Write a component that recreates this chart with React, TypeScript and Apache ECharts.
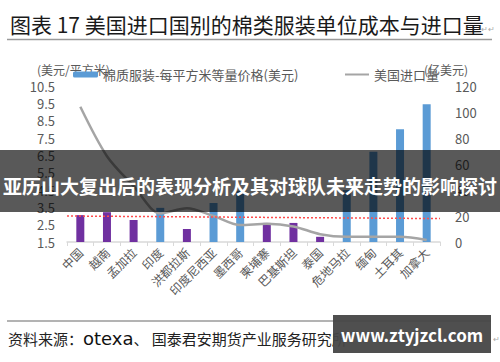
import React, { useEffect, useRef } from "react";
import * as echarts from "echarts";

const categories = ["中国", "越南", "孟加拉", "印度", "洪都拉斯", "印度尼西亚", "墨西哥", "柬埔寨", "巴基斯坦", "泰国", "危地马拉", "缅甸", "土耳其", "加拿大"];
const unitPrice = [3.05, 3.22, 2.77, 3.47, 2.25, 3.75, 4.45, 2.6, 2.6, 1.8, 4.5, 6.7, 8.0, 9.45];
const priceGroup = ["p", "p", "p", "b", "p", "b", "b", "p", "p", "p", "b", "b", "b", "b"];
const importVolume = [104, 66, 43, 22, 26, 20, 13, 14, 12, 6, 4, 4, 4, 1.5];
const trendLine = [[0, 3.0], [1, 2.85]];
const leftTicks = { min: 1.5, max: 10.5, interval: 1 };
const rightTicks = { min: 0, max: 120, interval: 20 };

const PURPLE = "#7030A0";
const BLUE = "#5B9BD5";
const FONT = "'Noto Sans CJK SC', 'Noto Sans', sans-serif";

export default function App() {
  const ref = useRef<HTMLDivElement>(null);
  useEffect(() => {
    if (!ref.current) return;
    const chart = echarts.init(ref.current, null, { renderer: "svg" });
    const labelStyle = { color: "#595959", fontSize: 12, fontFamily: FONT };
    chart.setOption({
      animation: false,
      backgroundColor: "#fff",
      grid: { left: 67, right: 60, top: 86, bottom: 120, containLabel: false },
      legend: [
        {
          data: ["棉质服装-每平方米等量价格(美元)"],
          left: 68, top: 63, itemWidth: 25, itemHeight: 6, itemGap: 4,
          textStyle: { ...labelStyle, fontSize: 13 },
        },
        {
          data: [{ name: "美国进口量", icon: "rect" }],
          left: 340, top: 63, itemWidth: 24, itemHeight: 2,
          textStyle: { ...labelStyle, fontSize: 13 },
        },
      ],
      xAxis: [
        {
          type: "category",
          data: categories,
          axisLine: { lineStyle: { color: "#D9D9D9", width: 1.5 } },
          axisTick: { show: true, lineStyle: { color: "#D9D9D9" }, length: 4 },
          axisLabel: { ...labelStyle, rotate: 45, margin: 8, interval: 0 },
        },
        { type: "value", min: 0, max: 1, show: false },
      ],
      yAxis: [
        {
          type: "value", ...leftTicks,
          axisLine: { show: false }, axisTick: { show: false }, splitLine: { show: false },
          axisLabel: { ...labelStyle, fontSize: 13, formatter: (v: number) => v.toFixed(1), margin: 12 },
        },
        {
          type: "value", ...rightTicks,
          axisLine: { show: false }, axisTick: { show: false }, splitLine: { show: false },
          axisLabel: { ...labelStyle, fontSize: 13, margin: 15 },
        },
      ],
      series: [
        {
          name: "棉质服装-每平方米等量价格(美元)",
          type: "bar",
          barWidth: 8,
          itemStyle: { color: BLUE },
          data: unitPrice.map((v, i) => ({ value: v, itemStyle: { color: priceGroup[i] === "p" ? PURPLE : BLUE } })),
        },
        {
          name: "美国进口量",
          type: "line",
          yAxisIndex: 1,
          smooth: 0.3,
          symbol: "none",
          lineStyle: { color: "#A5A5A5", width: 2.5 },
          itemStyle: { color: "#A5A5A5" },
          data: importVolume,
        },
        {
          name: "trend",
          type: "line",
          xAxisIndex: 1,
          yAxisIndex: 0,
          symbol: "none",
          lineStyle: { color: "#FF4D4D", width: 1.5, type: [2, 2] },
          data: trendLine,
        },
      ],
      graphic: [
        { type: "text", left: 10, top: 13, style: { text: "图表 17 美国进口国别的棉类服装单位成本与进口量", fontSize: 21, fill: "#1a1a1a", fontFamily: FONT } },
        { type: "text", left: 481, top: 24, style: { text: "↵↵", fontSize: 8, fill: "#aaa", fontFamily: FONT } },
        { type: "line", shape: { x1: 7, y1: 39.5, x2: 492, y2: 39.5 }, style: { stroke: "#9a9a9a", lineWidth: 1.5 } },
        { type: "text", left: 37, top: 63, style: { text: "(美元/平方米)", fontSize: 12, fill: "#595959", fontFamily: FONT } },
        { type: "text", left: 424, top: 63, style: { text: "(亿美元)", fontSize: 12, fill: "#595959", fontFamily: FONT } },
        { type: "rect", shape: { x: 0, y: 150, width: 500, height: 62 }, style: { fill: "rgba(0,0,0,0.65)" }, z: 100 },
        { type: "text", x: 250, y: 185, style: { text: "亚历山大复出后的表现分析及其对球队未来走势的影响探讨", fontSize: 19, fontWeight: "bold", fill: "#fff", align: "center", verticalAlign: "middle", fontFamily: FONT }, z: 101 },
        { type: "line", shape: { x1: 7, y1: 321, x2: 491, y2: 321 }, style: { stroke: "#9a9a9a", lineWidth: 1.5 } },
        {
          type: "text", left: 8, top: 329,
          style: {
            text: "{a|资料来源：}{b|otexa}{a|、 国泰君安期货产业服务研究所}",
            rich: {
              a: { fontSize: 15, fill: "#222", fontFamily: FONT },
              b: { fontSize: 18, fill: "#111", fontFamily: "'DejaVu Sans', sans-serif" },
            },
          },
        },
        { type: "rect", shape: { x: 333, y: 315, width: 158, height: 38 }, style: { fill: "rgba(70,70,70,0.95)" }, z: 100 },
        { type: "text", x: 412, y: 334, style: { text: "www.ztyjzcl.com", fontSize: 17, fontWeight: "bold", fill: "#fff", align: "center", verticalAlign: "middle", fontFamily: FONT }, z: 101 },
        { type: "text", left: 493, top: 334, style: { text: "↵", fontSize: 8, fill: "#aaa", fontFamily: FONT } },
      ],
    });
    return () => chart.dispose();
  }, []);
  return <div ref={ref} style={{ position: "fixed", left: 0, top: 0, width: 500, height: 362 }} />;
}
